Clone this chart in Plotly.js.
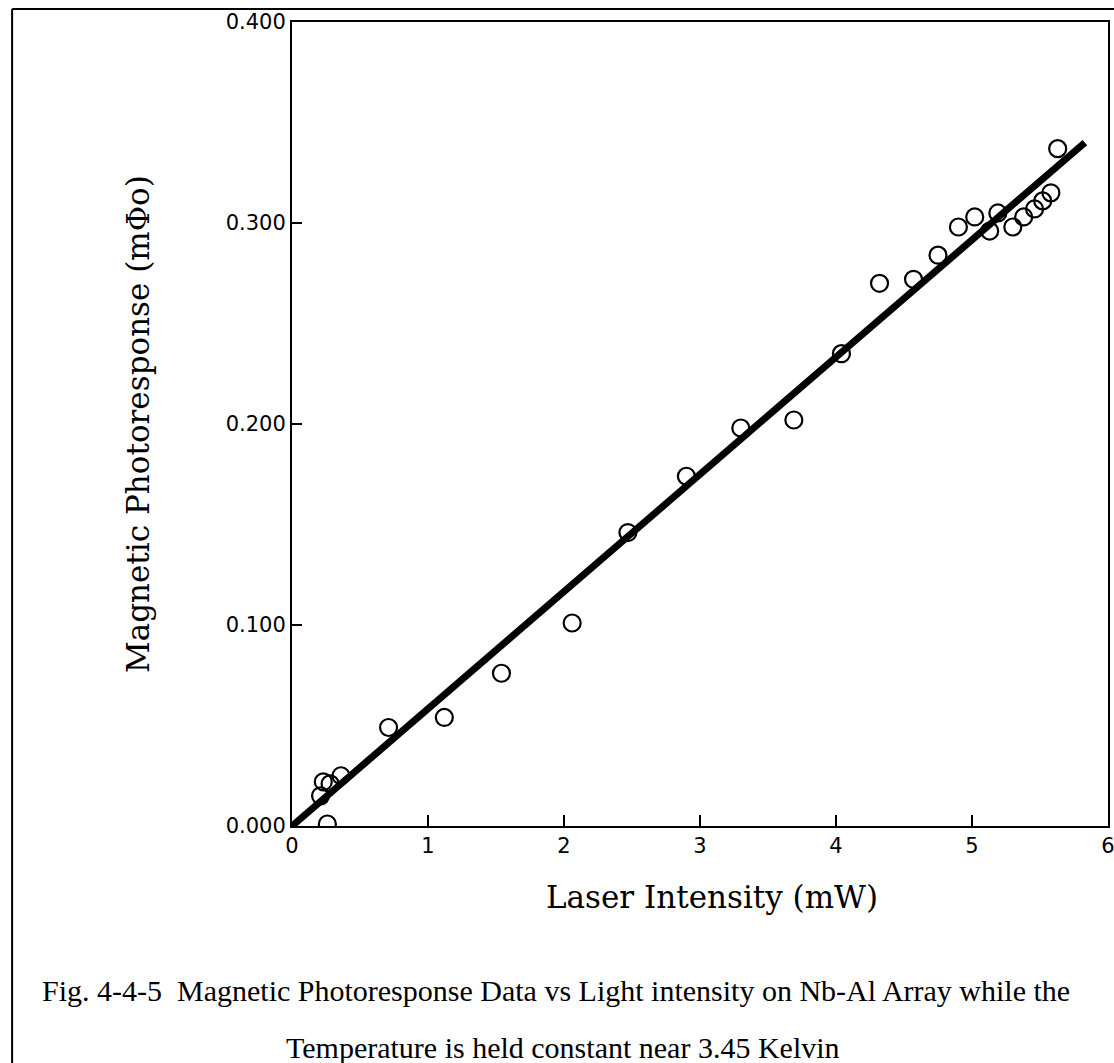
<!DOCTYPE html>
<html>
<head>
<meta charset="utf-8">
<script src="https://cdn.plot.ly/plotly-3.0.1.min.js"></script>
<style>html,body{margin:0;padding:0;background:#fff;}</style>
</head>
<body>
<div id="chart" style="width:1114px;height:1063px;"></div>
<script>
// Measured data points: Laser intensity (mW) vs magnetic photoresponse (mΦo)
const intensity = [0.21, 0.23, 0.26, 0.28, 0.36, 0.71, 1.12, 1.54, 2.06, 2.47, 2.90, 3.30, 3.69, 4.04, 4.32, 4.57, 4.75, 4.90, 5.02, 5.13, 5.19, 5.30, 5.38, 5.46, 5.52, 5.58, 5.63];
const response  = [0.015, 0.022, 0.001, 0.021, 0.025, 0.049, 0.054, 0.076, 0.101, 0.146, 0.174, 0.198, 0.202, 0.235, 0.270, 0.272, 0.284, 0.298, 0.303, 0.296, 0.305, 0.298, 0.303, 0.307, 0.311, 0.315, 0.337];
// Linear fit line endpoints
const fitX = [0, 5.83];
const fitY = [0, 0.340];
// Axis ticks
const xTicks = [0, 1, 2, 3, 4, 5, 6];
const yTicks = [0, 0.1, 0.2, 0.3, 0.4];
const yTickText = ["0.000", "0.100", "0.200", "0.300", "0.400"];
// Texts
const xTitle = 'Laser Intensity (mW)';
const yTitle = 'Magnetic Photoresponse (mΦo)';
const caption1 = 'Fig. 4-4-5  Magnetic Photoresponse Data vs Light intensity on Nb-Al Array while the';
const caption2 = 'Temperature is held constant near 3.45 Kelvin';

const titleFont = {family: 'DejaVu Serif, serif', size: 31, color: '#000'};
const tickFont = {family: 'DejaVu Sans, Arial, sans-serif', size: 21, color: '#000'};
const capFont = {family: 'Liberation Serif, Times New Roman, serif', size: 30, color: '#000'};

const traces = [
  {x: fitX, y: fitY, mode: 'lines', line: {color: '#000', width: 7}, hoverinfo: 'skip'},
  {x: intensity, y: response, mode: 'markers',
   marker: {symbol: 'circle-open', size: 17, color: '#000', line: {width: 2.2, color: '#000'}}}
];

const layout = {
  width: 1114, height: 1063,
  margin: {l: 292, r: 6, t: 22, b: 237},
  paper_bgcolor: '#fff', plot_bgcolor: '#fff',
  showlegend: false,
  font: {family: 'DejaVu Sans, Arial, sans-serif', color: '#000'},
  xaxis: {
    range: [0, 6], tickvals: xTicks, ticktext: xTicks.map(String),
    showgrid: false, zeroline: false, showline: true, mirror: true,
    linecolor: '#000', linewidth: 2, ticks: 'inside', ticklen: 11, tickwidth: 2, tickcolor: '#000',
    tickfont: tickFont, ticklabeloverflow: 'allow'
  },
  yaxis: {
    range: [0, 0.4], tickvals: yTicks, ticktext: yTickText,
    showgrid: false, zeroline: false, showline: true, mirror: true,
    linecolor: '#000', linewidth: 2, ticks: 'inside', ticklen: 10, tickwidth: 2, tickcolor: '#000',
    tickfont: tickFont, ticklabeloverflow: 'allow'
  },
  shapes: [
    {type: 'line', xref: 'paper', yref: 'paper', x0: -0.343, x1: -0.343, y0: 1.0162, y1: -0.30, line: {color: '#000', width: 2}},
    {type: 'line', xref: 'paper', yref: 'paper', x0: -0.343, x1: 1.01, y0: 1.0162, y1: 1.0162, line: {color: '#000', width: 2}}
  ],
  annotations: [
    {xref: 'paper', yref: 'paper', x: 0.5147, y: -0.0883, xanchor: 'center', yanchor: 'middle', showarrow: false,
     text: xTitle, font: titleFont},
    {xref: 'paper', yref: 'paper', x: -0.1887, y: 0.5, xanchor: 'center', yanchor: 'middle', showarrow: false,
     textangle: -90, text: yTitle, font: titleFont},
    {xref: 'paper', yref: 'paper', x: 0.3235, y: -0.204, xanchor: 'center', yanchor: 'middle', showarrow: false,
     text: caption1, font: capFont},
    {xref: 'paper', yref: 'paper', x: 0.332, y: -0.276, xanchor: 'center', yanchor: 'middle', showarrow: false,
     text: caption2, font: capFont}
  ]
};

Plotly.newPlot('chart', traces, layout, {displayModeBar: false, staticPlot: true});
</script>
</body>
</html>
